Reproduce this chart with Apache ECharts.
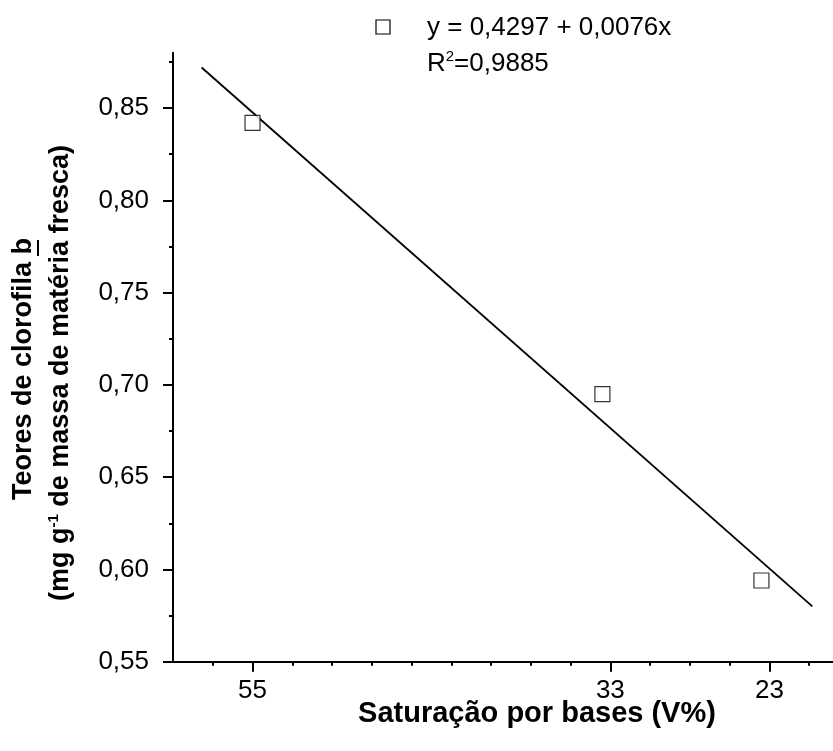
<!DOCTYPE html>
<html>
<head>
<meta charset="utf-8">
<script src="https://cdn.jsdelivr.net/npm/echarts@6/dist/echarts.min.js"></script>
<style>
  html, body { margin: 0; padding: 0; background: #fff; }
  #chart { width: 833px; height: 751px; }
</style>
</head>
<body>
<div id="chart"></div>
<script>
// Observed data (V% vs chlorophyll b)
const pointX = [55, 33, 23];
const pointY = [0.842, 0.695, 0.594];

// Fitted regression line end points
const lineX = [58.2, 19.8];
const lineY = [0.872, 0.580];

// Axis tick labels
const xTickLabels = ['55', '33', '23'];
const xTickPositions = [55, 32.5, 22.5];
const xMinorTicks = [57.5, 52.5, 50, 47.5, 45, 42.5, 40, 37.5, 35, 30, 27.5, 25, 20];
const yTickValues = [0.55, 0.60, 0.65, 0.70, 0.75, 0.80, 0.85];
const yMinorTicks = [0.575, 0.625, 0.675, 0.725, 0.775, 0.825, 0.875];

const equationText = 'y = 0,4297 + 0,0076x';
const r2Value = '0,9885';
const xTitle = 'Saturação por bases (V%)';
const yTitle1 = 'Teores de clorofila ';
const yTitle1b = 'b';
const yTitle2a = '(mg g';
const yTitle2sup = '-1';
const yTitle2b = ' de massa de matéria fresca)';

const FONT = '"Liberation Sans", Arial, sans-serif';
const X_MIN = 18.5, X_MAX = 60, Y_MIN = 0.55, Y_MAX = 0.88;

const chart = echarts.init(document.getElementById('chart'), null, { renderer: 'canvas' });

const labelMap = {};
xTickPositions.forEach((p, i) => { labelMap[p] = xTickLabels[i]; });

const option = {
  backgroundColor: '#fff',
  animation: false,
  grid: { left: 173, right: 0, top: 52.7, bottom: 89.3, containLabel: false },
  xAxis: [
    {
      type: 'value', inverse: true, min: X_MIN, max: X_MAX, position: 'bottom',
      splitLine: { show: false },
      axisLine: { show: true, lineStyle: { color: '#000', width: 2 } },
      axisTick: { show: true, customValues: xTickPositions, length: 10, lineStyle: { color: '#000', width: 2 } },
      axisLabel: {
        show: true, customValues: xTickPositions, margin: 16,
        formatter: v => labelMap[v] !== undefined ? labelMap[v] : '',
        color: '#000', fontSize: 26, fontFamily: FONT
      }
    },
    {
      type: 'value', inverse: true, min: X_MIN, max: X_MAX, position: 'bottom', offset: 0,
      splitLine: { show: false },
      axisLine: { show: false },
      axisTick: { show: true, customValues: xMinorTicks, length: 4, lineStyle: { color: '#000', width: 2 } },
      axisLabel: { show: false }
    }
  ],
  yAxis: [
    {
      type: 'value', min: Y_MIN, max: Y_MAX, position: 'left',
      splitLine: { show: false },
      axisLine: { show: true, lineStyle: { color: '#000', width: 2 } },
      axisTick: { show: true, customValues: yTickValues, length: 10, lineStyle: { color: '#000', width: 2 } },
      axisLabel: {
        show: true, customValues: yTickValues, margin: 24,
        formatter: v => v.toFixed(2).replace('.', ','),
        color: '#000', fontSize: 26, fontFamily: FONT
      }
    },
    {
      type: 'value', min: Y_MIN, max: Y_MAX, position: 'left', offset: 0,
      splitLine: { show: false },
      axisLine: { show: false },
      axisTick: { show: true, customValues: yMinorTicks, length: 4, lineStyle: { color: '#000', width: 2 } },
      axisLabel: { show: false }
    }
  ],
  series: [
    {
      type: 'line', name: 'fit', xAxisIndex: 0, yAxisIndex: 0,
      data: lineX.map((x, i) => [x, lineY[i]]),
      showSymbol: false, symbol: 'none',
      lineStyle: { color: '#000', width: 1.8 },
      z: 2
    },
    {
      type: 'scatter', name: 'obs', xAxisIndex: 0, yAxisIndex: 0,
      data: pointX.map((x, i) => [x, pointY[i]]),
      symbol: 'rect', symbolSize: 15,
      itemStyle: { color: '#fff', borderColor: '#000', borderWidth: 1.2 },
      z: 3
    }
  ],
  graphic: [
    {
      type: 'rect', x: 376, y: 20,
      shape: { width: 14, height: 14 },
      style: { fill: '#fff', stroke: '#000', lineWidth: 1.2 }
    },
    {
      type: 'text', x: 427, y: 28,
      style: { text: equationText, font: '26px ' + FONT, fill: '#000', textVerticalAlign: 'middle' }
    },
    {
      type: 'text', x: 427, y: 49,
      style: {
        text: '{a|R}{s|2}{a|=' + r2Value + '}',
        fill: '#000',
        rich: {
          a: { fontSize: 26, fontFamily: FONT, color: '#000', lineHeight: 30 },
          s: { fontSize: 15, fontFamily: FONT, color: '#000', verticalAlign: 'top', lineHeight: 20 }
        }
      }
    },
    {
      type: 'text', x: 537, y: 714,
      style: {
        text: xTitle, font: 'bold 29px ' + FONT, fill: '#000',
        textAlign: 'center', textVerticalAlign: 'middle'
      }
    },
    {
      type: 'text', x: 24, y: 369, rotation: Math.PI / 2,
      style: {
        text: '{a|' + yTitle1 + '}{b|' + yTitle1b + '}',
        textAlign: 'center', textVerticalAlign: 'middle',
        rich: {
          a: { fontSize: 27, fontWeight: 'bold', fontFamily: FONT, color: '#000' },
          b: { fontSize: 27, fontWeight: 'bold', fontFamily: FONT, color: '#000' }
        }
      }
    },
    {
      type: 'line',
      shape: { x1: 38, y1: 240, x2: 38, y2: 256 },
      style: { stroke: '#000', lineWidth: 2 }
    },
    {
      type: 'text', x: 61, y: 373, rotation: Math.PI / 2,
      style: {
        text: '{a|' + yTitle2a + '}{s|' + yTitle2sup + '}{a|' + yTitle2b + '}',
        textAlign: 'center', textVerticalAlign: 'middle',
        rich: {
          a: { fontSize: 27, fontWeight: 'bold', fontFamily: FONT, color: '#000', lineHeight: 30 },
          s: { fontSize: 15, fontWeight: 'bold', fontFamily: FONT, color: '#000', verticalAlign: 'top', lineHeight: 18 }
        }
      }
    }
  ]
};

chart.setOption(option);
</script>
</body>
</html>
